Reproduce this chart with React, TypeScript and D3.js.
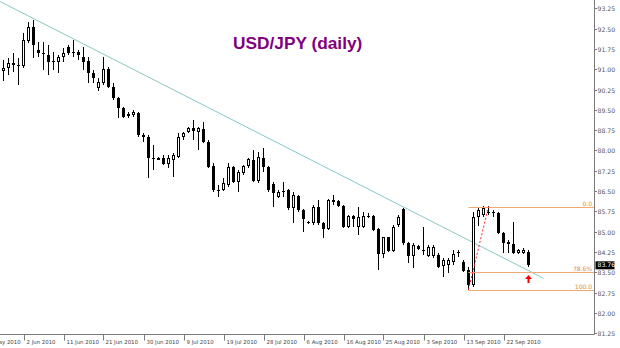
import React from 'react';
import * as d3 from 'd3';

const W = 620;
const H = 348;

// Daily USD/JPY candles, 28 May 2010 .. 28 Sep 2010 (bar index 0..105)
const opens = [
  90.94, 91.05, 91.23, 91.16, 91.12, 92.04, 92.56, 91.71, 91.60, 91.53,
  91.30, 91.27, 91.45, 91.82, 91.64, 91.64, 91.45, 91.30, 90.86, 90.31,
  90.49, 91.01, 90.34, 89.94, 89.57, 89.31, 89.31, 89.38, 88.57, 88.50,
  87.72, 87.69, 87.72, 87.50, 87.65, 87.76, 88.50, 88.68, 88.83, 88.68,
  88.79, 88.31, 87.43, 86.54, 86.54, 86.73, 87.39, 86.84, 87.17, 87.43,
  87.65, 86.87, 87.72, 87.39, 86.76, 86.28, 86.50, 86.54, 85.88, 86.32,
  85.80, 85.36, 85.32, 85.91, 85.32, 85.10, 86.13, 86.13, 85.95, 85.17,
  85.58, 85.17, 85.17, 85.58, 85.58, 85.10, 84.18, 84.80, 84.29, 85.25,
  85.84, 84.58, 84.10, 84.47, 84.32, 84.10, 84.10, 84.14, 83.73, 83.77,
  83.88, 84.25, 83.88, 83.59, 83.03, 85.54, 85.62, 85.73, 85.73, 85.69,
  84.95, 84.62, 84.55, 84.21, 84.21, 84.25,
];
const highs = [
  91.34, 91.42, 91.60, 91.42, 92.34, 92.74, 92.82, 92.01, 92.01, 91.90,
  91.64, 91.53, 91.78, 91.90, 92.08, 91.71, 91.82, 91.45, 90.97, 90.68,
  91.45, 91.08, 90.49, 89.98, 89.61, 89.42, 89.49, 89.42, 88.65, 88.57,
  88.20, 87.76, 87.83, 87.83, 87.91, 88.65, 88.68, 88.87, 89.13, 88.87,
  89.05, 88.39, 87.54, 86.73, 86.98, 87.54, 87.43, 87.28, 87.46, 87.72,
  88.02, 87.94, 88.09, 87.43, 86.84, 86.54, 86.84, 86.58, 86.47, 86.36,
  85.84, 85.40, 85.99, 86.17, 85.36, 86.21, 86.36, 86.17, 85.99, 85.62,
  85.62, 85.91, 85.73, 85.69, 85.62, 85.14, 84.80, 84.82, 85.25, 85.62,
  85.88, 84.62, 84.58, 84.51, 85.17, 84.51, 84.51, 84.21, 84.03, 84.03,
  84.32, 84.32, 83.96, 83.70, 85.73, 85.91, 85.95, 85.95, 85.80, 85.73,
  84.99, 84.69, 85.36, 84.36, 84.40, 84.32,
];
const lows = [
  90.57, 90.79, 90.90, 90.40, 91.05, 91.97, 91.42, 91.45, 90.97, 90.79,
  90.97, 90.86, 91.27, 91.53, 91.45, 91.34, 90.97, 90.49, 90.49, 90.20,
  90.42, 90.31, 89.86, 89.20, 89.20, 89.20, 89.24, 88.50, 88.31, 86.98,
  87.28, 87.65, 87.46, 87.35, 87.02, 87.72, 88.39, 88.65, 88.39, 88.02,
  88.28, 87.35, 86.47, 86.28, 86.50, 86.65, 86.80, 86.47, 87.09, 87.35,
  86.84, 86.80, 87.21, 86.47, 85.91, 86.25, 86.28, 85.80, 85.32, 85.73,
  84.99, 85.29, 85.25, 85.25, 84.77, 85.06, 85.99, 85.91, 85.14, 85.14,
  85.17, 84.88, 85.14, 85.51, 85.03, 83.59, 84.03, 84.25, 84.25, 85.17,
  84.51, 83.84, 83.66, 84.32, 84.14, 84.07, 84.03, 83.66, 83.33, 83.47,
  83.77, 84.07, 83.51, 82.86, 82.95, 85.21, 85.54, 85.62, 85.54, 84.92,
  84.21, 84.21, 84.18, 84.18, 84.18, 83.70,
];
const closes = [
  91.05, 91.23, 91.16, 91.12, 92.08, 92.56, 91.90, 91.60, 91.56, 91.27,
  91.27, 91.45, 91.60, 91.60, 91.60, 91.53, 91.27, 90.86, 90.68, 90.53,
  91.01, 90.34, 89.94, 89.57, 89.24, 89.35, 89.42, 88.57, 88.50, 87.72,
  87.69, 87.72, 87.50, 87.72, 87.83, 88.50, 88.65, 88.83, 88.72, 88.83,
  88.31, 87.39, 86.54, 86.50, 86.80, 87.39, 86.84, 87.21, 87.43, 87.69,
  86.87, 87.76, 87.39, 86.54, 86.43, 86.47, 86.47, 85.88, 86.36, 85.80,
  85.47, 85.34, 85.91, 85.32, 85.10, 86.17, 86.17, 85.95, 85.17, 85.58,
  85.47, 85.54, 85.58, 85.56, 85.06, 84.18, 84.80, 84.29, 85.17, 85.54,
  84.58, 84.10, 84.51, 84.36, 84.30, 84.44, 84.44, 83.70, 83.96, 83.96,
  84.18, 84.21, 83.55, 83.03, 85.54, 85.80, 85.88, 85.69, 85.71, 84.95,
  84.58, 84.55, 84.21, 84.32, 84.32, 83.76,
];

const tickBars = [-4, 4, 12, 20, 28, 36, 44, 52, 60, 68, 76, 84, 92, 100];
const tickLabels = [
  '24 May 2010', '2 Jun 2010', '11 Jun 2010', '21 Jun 2010', '30 Jun 2010',
  '9 Jul 2010', '19 Jul 2010', '28 Jul 2010', '6 Aug 2010', '16 Aug 2010',
  '25 Aug 2010', '3 Sep 2010', '13 Sep 2010', '22 Sep 2010',
];
const priceTicks = [
  81.25, 82.0, 82.75, 83.5, 84.25, 85.0, 85.75, 86.5, 87.25, 88.0, 88.75,
  89.5, 90.25, 91.0, 91.75, 92.5, 93.25,
];

const fibLevels = [0, 78.6, 100];
const fibLabels = ['0.0', '78.6%', '100.0'];
const fibHigh = 85.93;
const fibLow = 82.86;
const fibStartBar = 93;
const fibHighBar = 97;

const trendBars = [-1, 108];
const trendPrices = [93.53, 83.28];

const lastPrice = 83.76;
const arrowBar = 105;
const arrowPrice = 83.4;

export default function App() {
  const plotRight = 594.5;
  const plotBottom = 334.5;

  const x = d3.scaleLinear().domain([0, 105]).range([3.5, 528.5]);
  const y = d3.scaleLinear().domain([81.25, 93.25]).range([333.3, 8.3]);

  const candles = opens.map((o, i) => {
    const c = closes[i];
    const cx = x(i);
    const top = Math.round(y(Math.max(o, c)));
    const bot = Math.round(y(Math.min(o, c)));
    const up = c > o;
    return { cx, top, bot, up, hy: Math.round(y(highs[i])), ly: Math.round(y(lows[i])) };
  });

  const trendLine = d3
    .line<number>()
    .x((_, k) => x(trendBars[k]))
    .y((p) => y(p))(trendPrices);

  const fibRange = fibHigh - fibLow;
  const ax = x(arrowBar);
  const ay = y(arrowPrice);
  const arrow = `M${ax},${ay} L${ax + 3.5},${ay + 4} L${ax + 1},${ay + 4} L${ax + 1},${ay + 8} L${ax - 1},${ay + 8} L${ax - 1},${ay + 4} L${ax - 3.5},${ay + 4} Z`;

  const axisFont = 'Tahoma, "DejaVu Sans", "Liberation Sans", sans-serif';

  return (
    <svg
      width={W}
      height={H}
      viewBox={`0 0 ${W} ${H}`}
      style={{ position: 'absolute', left: 0, top: 0, background: '#fff' }}
    >
      <defs>
        <clipPath id="plot">
          <rect x={0} y={0} width={plotRight} height={plotBottom} />
        </clipPath>
      </defs>

      <text
        x={233}
        y={49}
        fontFamily='"Liberation Sans", Arial, sans-serif'
        fontSize={17.3}
        fontWeight="bold"
        fill="#800080"
      >
        USD/JPY (daily)
      </text>

      <g clipPath="url(#plot)">
        <path d={trendLine || ''} fill="none" stroke="#86c8c8" strokeWidth={1} />

        {candles.map((k, i) => (
          <g key={i}>
            <line x1={k.cx} x2={k.cx} y1={k.hy} y2={k.ly} stroke="#000" strokeWidth={1} />
            {k.up ? (
              <rect
                x={k.cx - 1}
                y={k.top + 0.5}
                width={2}
                height={Math.max(1, k.bot - k.top - 1)}
                fill="#fff"
                stroke="#000"
                strokeWidth={1}
              />
            ) : (
              <rect
                x={k.cx - 1.5}
                y={k.top}
                width={3}
                height={Math.max(1, k.bot - k.top)}
                fill="#000"
              />
            )}
          </g>
        ))}

        {fibLevels.map((lv, j) => {
          const py = Math.round(y(fibHigh - (fibRange * lv) / 100)) + 0.5;
          return (
            <g key={j}>
              <line x1={x(fibStartBar)} x2={plotRight} y1={py} y2={py} stroke="#f3a877" strokeWidth={1} />
              <text
                x={592}
                y={py - 2}
                textAnchor="end"
                fontFamily={axisFont}
                fontSize={6}
                fill="#e0894a"
              >
                {fibLabels[j]}
              </text>
            </g>
          );
        })}

        <line
          x1={x(fibStartBar)}
          y1={y(fibLow)}
          x2={x(fibHighBar)}
          y2={y(fibHigh)}
          stroke="#ff2020"
          strokeWidth={1}
          strokeDasharray="2,2"
        />

        <path d={arrow} fill="#ff0000" />
      </g>

      {/* axes */}
      <line x1={plotRight} x2={plotRight} y1={0} y2={plotBottom} stroke="#7a7a7a" strokeWidth={1} />
      <line x1={0} x2={plotRight} y1={plotBottom} y2={plotBottom} stroke="#7a7a7a" strokeWidth={1} />

      {priceTicks.map((p, j) => {
        const py = Math.round(y(p)) + 0.5;
        return (
          <g key={j}>
            <line x1={plotRight} x2={plotRight + 2.5} y1={py} y2={py} stroke="#7a7a7a" />
            <text
              x={597.5}
              y={py}
              dy="0.35em"
              fontFamily={axisFont}
              fontSize={6.2}
              fill="#555"
            >
              {p.toFixed(2)}
            </text>
          </g>
        );
      })}

      <rect x={595.5} y={y(lastPrice) - 4} width={19} height={8} fill="#000" />
      <text
        x={597.5}
        y={y(lastPrice)}
        dy="0.35em"
        fontFamily={axisFont}
        fontSize={6.2}
        fill="#fff"
      >
        {lastPrice.toFixed(2)}
      </text>

      {tickBars.map((b, j) => {
        const tx = Math.round(x(b)) + 0.5;
        return (
          <g key={j}>
            <line x1={tx} x2={tx} y1={plotBottom} y2={plotBottom + 6} stroke="#7a7a7a" />
            <text
              x={tx + 2}
              y={343.5}
              fontFamily={axisFont}
              fontSize={5.4}
              fill="#444"
            >
              {tickLabels[j]}
            </text>
          </g>
        );
      })}
    </svg>
  );
}
